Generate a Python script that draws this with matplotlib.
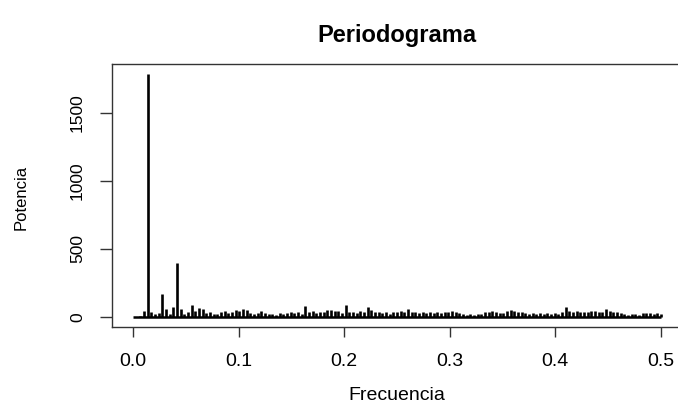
import numpy as np
import matplotlib
matplotlib.use("Agg")
import matplotlib.pyplot as plt

plt.rcParams['font.family'] = ['Liberation Sans', 'DejaVu Sans']

# periodogram ordinates, one per Fourier frequency k/288 (k = 0..144)
potencia = [
    0, 2, 5, 45, 1787, 35, 20, 30, 167, 60,
    25, 70, 395, 55, 25, 40, 88, 45, 65, 55,
    30, 40, 20, 25, 38, 42, 30, 35, 50, 45,
    56, 52, 30, 25, 28, 45, 30, 22, 25, 18,
    28, 20, 30, 38, 32, 40, 25, 80, 38, 42,
    30, 40, 38, 50, 48, 45, 42, 30, 85, 38,
    40, 28, 45, 40, 76, 50, 35, 40, 30, 38,
    25, 40, 35, 45, 40, 55, 35, 40, 32, 38,
    30, 36, 32, 38, 30, 40, 35, 42, 38, 30,
    20, 18, 22, 18, 20, 25, 40, 35, 42, 38,
    30, 28, 45, 48, 42, 38, 40, 30, 25, 28,
    22, 30, 25, 28, 22, 30, 25, 35, 70, 42,
    38, 45, 35, 40, 38, 45, 42, 38, 40, 58,
    42, 35, 38, 30, 20, 18, 22, 20, 18, 30,
    28, 32, 25, 30, 20,
]
frecuencia = np.arange(len(potencia)) / (2 * (len(potencia) - 1))

xticks = [0.0, 0.1, 0.2, 0.3, 0.4, 0.5]
yticks = [0, 500, 1000, 1500]

W, H = 678, 407
fig = plt.figure(figsize=(W / 100, H / 100), dpi=100)
ax = fig.add_axes([112 / W, (H - 326.7) / H, 570 / W, (326.7 - 64.2) / H])

ax.vlines(frecuencia, 0, potencia, color='black', lw=1.9, capstyle='butt')
# flat base of the spikes
ax.plot([frecuencia[0], frecuencia[-1]], [0, 0], color='black', lw=1.8,
        solid_capstyle='butt')

ymax = max(potencia)
ax.set_xlim(-0.02, 0.52)
ax.set_ylim(-0.04 * ymax, 1.04 * ymax)

ax.set_xticks(xticks)
ax.set_xticklabels([f"{t:.1f}" for t in xticks], fontsize=14)
ax.set_yticks(yticks)
ax.set_yticklabels([str(t) for t in yticks], fontsize=12.5, rotation=90, va='center')

ax.tick_params(axis='x', length=7.5, width=1, pad=11.5, color='#333333')
ax.tick_params(axis='y', length=8.5, width=1, pad=11, color='#333333')
for s in ax.spines.values():
    s.set_linewidth(1.0)
    s.set_color('#333333')

fig.text(397 / W, 1 - 42 / H, "Periodograma", ha='center', va='baseline',
         fontsize=17, fontweight='bold')
fig.text(397 / W, 1 - 395 / H, "Frecuencia", ha='center', va='center', fontsize=14)
fig.text(21 / W, 1 - 197 / H, "Potencia", ha='center', va='center',
         rotation=90, fontsize=12)

fig.savefig("out.png", dpi=100)
